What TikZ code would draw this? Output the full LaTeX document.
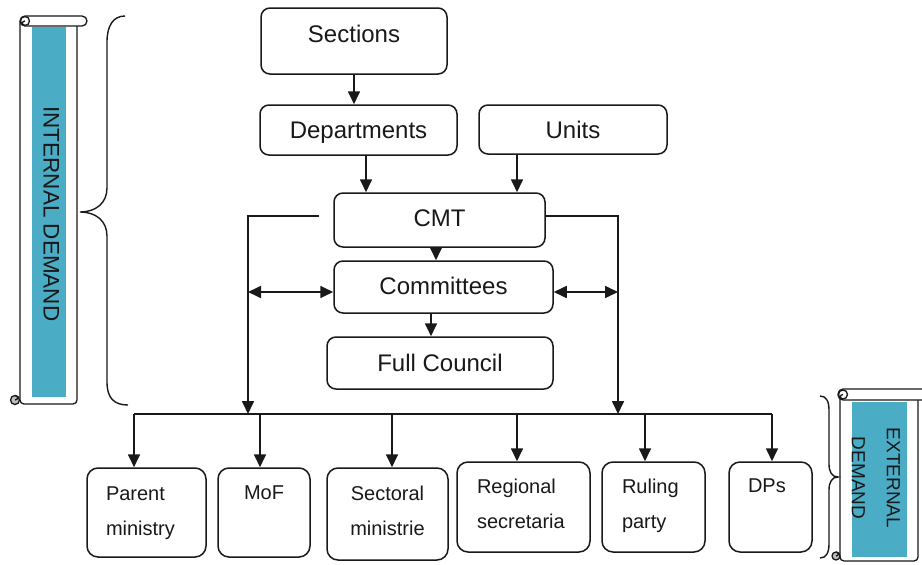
\documentclass[tikz,border=0pt]{standalone}
\usepackage{fontspec}
\setmainfont{Liberation Sans}
\usetikzlibrary{arrows.meta}
\definecolor{scrollteal}{RGB}{75,172,198}
\definecolor{curlgray}{RGB}{190,190,190}
\definecolor{ink}{RGB}{25,25,25}
\begin{document}
\begin{tikzpicture}[x=1pt,y=-1pt,
  every node/.style={font=\fontsize{24}{28}\selectfont, text=ink},
  topbox/.style={draw=ink, line width=1.5pt, rounded corners=9pt, inner ysep=0pt, fill=white},
  basebox/.style={draw=ink, line width=1.5pt, rounded corners=11pt, inner ysep=0pt, fill=white,
                  font=\fontsize{20}{35.5}\selectfont},
  tip/.tip={Triangle[length=13pt,width=12pt]},
  arr/.style={draw=ink, line width=1.7pt, -tip},
  dbl/.style={draw=ink, line width=1.7pt, tip-tip},
  wire/.style={draw=ink, line width=1.7pt},
  brace/.style={draw=ink, line width=1.4pt},
  scrollline/.style={draw=ink, line width=1.3pt},
]
\clip (0,0) rectangle (922,565);

% ---- left scroll: internal demand ----
\draw[scrollline, fill=white, rounded corners=4pt] (20,21) -- (20,404) -- (77,404) -- (77,21);
\fill[scrollteal] (32,27) rectangle (66,397);
\draw[scrollline, fill=white, rounded corners=5pt] (20,16) rectangle (87,26);
\draw[scrollline, fill=white] (25,21) circle (4.5pt);
\draw[scrollline] (25,21) .. controls (21.5,21) and (21.5,25.5) .. (25,25.5);
\draw[scrollline, fill=curlgray] (15,400) circle (4.5pt);
\draw[scrollline] (15,400) .. controls (18.5,400) and (18.5,395.5) .. (15,395.5);
\node[rotate=-90, font=\fontsize{22.5}{27}\selectfont, inner sep=0pt,
      text height=16pt, text depth=0pt] (intlabel) at (51.5,214) {INTERNAL DEMAND};

% ---- right scroll: external demand ----
\draw[scrollline, fill=white, rounded corners=4pt] (840,395) -- (840,561) -- (918,561) -- (918,400);
\fill[scrollteal] (852,402) rectangle (907,557);
\draw[scrollline, fill=white, rounded corners=5pt] (838,389) rectangle (940,400);
\draw[scrollline, fill=white] (843,394.5) circle (4.5pt);
\draw[scrollline] (843,394.5) .. controls (839.5,394.5) and (839.5,399) .. (843,399);
\draw[scrollline, fill=curlgray] (836,556) circle (4pt);
\draw[scrollline] (836,556) .. controls (839,556) and (839,552) .. (836,552);
\node[rotate=-90, align=center, font=\fontsize{19}{35}\selectfont, inner sep=0pt] (extlabel)
      at (876,478) {EXTERNAL\\DEMAND};

% ---- braces ----
\draw[brace] (125,16) .. controls (113,16) and (107,26) .. (107,42) -- (107,188)
  .. controls (107,203) and (96,212) .. (80,212)
  .. controls (96,212) and (107,221) .. (107,236) -- (107,382)
  .. controls (107,398) and (114,405) .. (128,405);
\draw[brace] (820,396) .. controls (826,396) and (829,401) .. (829,410) -- (829,464)
  .. controls (829,472) and (832,477) .. (838,477)
  .. controls (832,477) and (829,482) .. (829,490) -- (829,544)
  .. controls (829,553) and (826,558) .. (820,558);

% ---- upper hierarchy ----
\node[topbox, minimum width=186pt, text height=34pt, text depth=32pt] (sec)   at (354,41)    {Sections};
\node[topbox, minimum width=197pt, text height=33pt, text depth=17pt] (dep)   at (358.5,130) {Departments};
\node[topbox, minimum width=188pt, text height=33pt, text depth=16pt] (units) at (573,129.5) {Units};
\node[topbox, minimum width=211pt, text height=33pt, text depth=21pt] (cmt)   at (439.5,220) {CMT};
\node[topbox, minimum width=219pt, text height=33pt, text depth=19pt] (com)   at (443.5,287) {Committees};
\node[topbox, minimum width=226pt, text height=34pt, text depth=18pt] (fc)    at (440,363)   {Full Council};

% ---- external bodies ----
\node[basebox, inner xsep=19pt, text width=81pt, align=left,   text height=32pt, text depth=57pt] (parent) at (146.5,512.5) {Parent\\ministry};
\node[basebox, inner xsep=10pt, text width=72pt, align=center, text height=31pt, text depth=58pt] (mof)    at (264,512.5)   {MoF};
\node[basebox, inner xsep=10pt, text width=101pt,align=center, text height=32pt, text depth=60pt] (sect)   at (387.5,514)   {Sectoral\\ministrie};
\node[basebox, inner xsep=20pt, text width=93pt, align=left,   text height=31pt, text depth=59pt] (reg)    at (523.5,507)   {Regional\\secretaria};
\node[basebox, inner xsep=20pt, text width=63pt, align=left,   text height=31pt, text depth=59pt] (rul)    at (653.5,507)   {Ruling\\party};
\node[basebox, inner xsep=19pt, text width=45pt, align=left,   text height=30pt, text depth=60pt] (dps)    at (770.5,507)   {DPs};

% ---- routing points ----
\coordinate (cmtL)  at (319,216);
\coordinate (busL)  at (134,414);
\coordinate (busR)  at (772,414);
\coordinate (dropL) at (248,414);
\coordinate (dropR) at (618,414);
\coordinate (sideL) at (248,292);
\coordinate (sideR) at (618,292);

% ---- connectors ----
\draw[arr] (sec.south) -- (sec.south |- dep.north);
\draw[arr] ([xshift=7.5pt]dep.south) -- ([xshift=7.5pt]dep.south |- cmt.north);
\draw[arr] ([xshift=-56pt]units.south) -- ([xshift=-56pt]units.south |- cmt.north);
\draw[arr] ([xshift=-3.5pt]cmt.south) -- ([xshift=-3.5pt]cmt.south |- com.north);
\draw[arr] ([xshift=-12.5pt]com.south) -- ([xshift=-12.5pt]com.south |- fc.north);

\draw[arr] (cmtL) -| (dropL);
\draw[arr] (cmt.east |- cmtL) -| (dropR);
\draw[dbl] (sideL) -- (sideL -| com.west);
\draw[dbl] (com.east |- sideR) -- (sideR);

\draw[wire] (busL) -- (busR);
\draw[arr] (busL) -- (busL |- parent.north);
\draw[arr] ([xshift=-4pt]mof.north |- busL) -- ([xshift=-4pt]mof.north);
\draw[arr] ([xshift=4.5pt]sect.north |- busL) -- ([xshift=4.5pt]sect.north);
\draw[arr] ([xshift=-6.5pt]reg.north |- busL) -- ([xshift=-6.5pt]reg.north);
\draw[arr] ([xshift=-8.5pt]rul.north |- busL) -- ([xshift=-8.5pt]rul.north);
\draw[arr] (busR) -- (busR |- dps.north);
\end{tikzpicture}
\end{document}
